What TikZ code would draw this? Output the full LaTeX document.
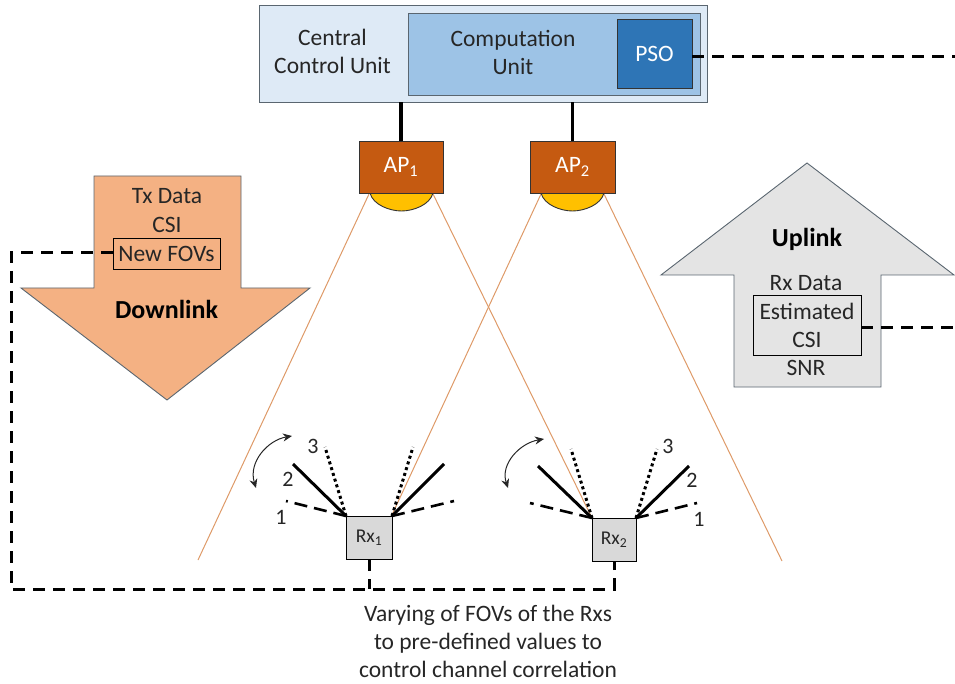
\documentclass[tikz,border=0pt]{standalone}
\usepackage{fontspec}
\setmainfont{Carlito}
\usetikzlibrary{arrows.meta}
\definecolor{ink}{HTML}{262626}
\definecolor{ccu}{HTML}{DEEAF6}
\definecolor{comp}{HTML}{9DC3E6}
\definecolor{psoc}{HTML}{2E75B6}
\definecolor{apc}{HTML}{C55A11}
\definecolor{lens}{HTML}{FFC000}
\definecolor{down}{HTML}{F4B183}
\definecolor{up}{HTML}{E4E4E4}
\definecolor{rxc}{HTML}{D9D9D9}
\definecolor{beam}{HTML}{DE9A68}
\definecolor{edge}{HTML}{5A6670}
\newcommand{\fsbig}{\fontsize{23.5}{28}\selectfont}
\newcommand{\fsbold}{\bfseries\fontsize{26}{30}\selectfont}
\tikzset{
  x=1pt,y=-1pt,
  box/.style={draw=#1,line width=0.9pt,inner sep=0pt,outer sep=0pt,align=center,text=ink,font=\fsbig},
  box/.default=black,
  lbl/.style={inner sep=0pt,align=center,text=ink,font=\fsbig},
  lines/.style={line width=3.6pt},
  dashline/.style={line width=3pt,dash pattern=on 12pt off 8pt},
  solidray/.style={line width=3pt},
  dashray/.style={line width=2.6pt,dash pattern=on 13pt off 7pt},
  dotray/.style={line width=3pt,dash pattern=on 3pt off 3pt},
  beamline/.style={draw=beam,line width=1pt},
  swing/.style={draw=ink,line width=1pt,{Stealth[length=9pt,width=8pt]}-{Stealth[length=9pt,width=8pt]}},
  num/.style={inner sep=0pt,text=ink,font=\fontsize{22}{24}\selectfont},
  rxbox/.style={box=black,fill=rxc,minimum height=43pt,font=\fontsize{19.5}{22}\selectfont}
}
\begin{document}
\begin{tikzpicture}
\useasboundingbox (0,0) rectangle (955,684);
% arrows
\path[draw=edge,line width=0.9pt,fill=down] (94,176)--(241,176)--(241,288)--(310,288)--(167,400)--(21,288)--(94,288)--cycle;
\path[draw=edge,line width=0.9pt,fill=up] (807,163)--(954,275)--(881,275)--(881,387)--(734,387)--(734,275)--(661,275)--cycle;
% beams
\coordinate (b1l) at (198,560); \coordinate (b1r) at (592,518);
\coordinate (b2l) at (391,517); \coordinate (b2r) at (782,561);
\coordinate (a1l) at (369,194); \coordinate (a1r) at (433,194);
\coordinate (a2l) at (541,194); \coordinate (a2r) at (604,194);
\draw[beamline] (a1l)--(b1l);
\draw[beamline] (a1r)--(b1r);
\draw[beamline] (a2l)--(b2l);
\draw[beamline] (a2r)--(b2r);
% central unit
\node[box=edge,fill=ccu,minimum width=448pt,minimum height=97pt] (ccu) at (483,53.5) {};
\node[box=edge,fill=comp,minimum width=292pt,minimum height=82pt] (cu) at (554,54) {};
\node[box=black!80,fill=psoc,minimum width=75pt,minimum height=69pt,text=white] (pso) at (654.5,53.5) {PSO};
\node[lbl] (ccut) at (332.5,51.5) {Central\\Control Unit};
\node[lbl] (cut) at (513,52.5) {Computation\\Unit};
% access points
\path[draw=black!80,line width=0.9pt,fill=lens] (370,193) .. controls (373,205) and (390,211) .. (401.5,211) .. controls (413,211) and (430,205) .. (433,193)--cycle;
\path[draw=black!80,line width=0.9pt,fill=lens] (541,193) .. controls (544,205) and (561,211) .. (572.5,211) .. controls (584,211) and (601,205) .. (604,193)--cycle;
\node[box=black!80,fill=apc,minimum width=84pt,minimum height=52pt,text=white] (ap1) at (401,167) {AP\textsubscript{1}};
\node[box=black!80,fill=apc,minimum width=85pt,minimum height=52pt,text=white] (ap2) at (572.5,167) {AP\textsubscript{2}};
\draw[lines] (ap1.north)--(ap1.north|-ccu.south);
\draw[lines] (ap2.north)--(ap2.north|-ccu.south);
% downlink text
\node[lbl] (tx) at (167,196) {Tx Data};
\node[lbl] (csi) at (167,225) {CSI};
\node[box=black,minimum width=107pt,minimum height=31pt] (fov) at (166.5,253.5) {New FOVs};
\node[lbl,font=\fsbold,text=black] (dl) at (166.5,309) {Downlink};
% uplink text
\node[lbl,font=\fsbold,text=black] (ul) at (807,239) {Uplink};
\node[lbl] (rxd) at (806,283) {Rx Data};
\node[box=black,minimum width=108pt,minimum height=60pt] (est) at (807,325) {Estimated\\CSI};
\node[lbl] (snr) at (806,368) {SNR};
% receivers
\node[rxbox,minimum width=46pt] (rx1) at (369,537.5) {Rx\textsubscript{1}};
\node[rxbox,minimum width=44pt] (rx2) at (614,539.5) {Rx\textsubscript{2}};
% FOV rays
\coordinate (r1a) at (286,501); \coordinate (r1b) at (293,464); \coordinate (r1c) at (325,447);
\coordinate (r1d) at (454,501); \coordinate (r1e) at (444,464); \coordinate (r1f) at (413,447);
\coordinate (r2a) at (530,503); \coordinate (r2b) at (538,466); \coordinate (r2c) at (571,449);
\coordinate (r2d) at (697,503); \coordinate (r2e) at (689,466); \coordinate (r2f) at (657,449);
\draw[dashray] (rx1.north west)--(r1a);
\draw[solidray] (rx1.north west)--(r1b);
\draw[dotray] (rx1.north west)--(r1c);
\draw[dashray] (rx1.north east)--(r1d);
\draw[solidray] (rx1.north east)--(r1e);
\draw[dotray] (rx1.north east)--(r1f);
\draw[dashray] (rx2.north west)--(r2a);
\draw[solidray] (rx2.north west)--(r2b);
\draw[dotray] (rx2.north west)--(r2c);
\draw[dashray] (rx2.north east)--(r2d);
\draw[solidray] (rx2.north east)--(r2e);
\draw[dotray] (rx2.north east)--(r2f);
\coordinate (s1a) at (292,436); \coordinate (s1b) at (256,488);
\coordinate (s2a) at (544,439); \coordinate (s2b) at (508,488);
\draw[swing] (s1a) .. controls (268,440) and (248,462) .. (s1b);
\draw[swing] (s2a) .. controls (520,443) and (500,464) .. (s2b);
\node[num] (n13) at (313,446) {3};
\node[num] (n12) at (288,479) {2};
\node[num] (n11) at (281,517) {1};
\node[num] (n23) at (668,446) {3};
\node[num] (n22) at (692,480) {2};
\node[num] (n21) at (699,519) {1};
% dashed control links
\coordinate (pe) at (955,57);
\coordinate (ee) at (955,328);
\coordinate (tl) at (11,253);
\coordinate (bl) at (11,589);
\coordinate (bm) at (rx1.south|-bl);
\coordinate (br) at (rx2.south|-bl);
\draw[dashline] (pso.east|-pe)--(pe);
\draw[dashline] (est.east|-ee)--(ee);
\draw[dashline] (fov.west|-tl)--(tl)--(bl)--(br)--(rx2.south);
\draw[dashline] (rx1.south)--(bm);
% caption
\node[lbl] (cap) at (488,641) {Varying of FOVs of the Rxs\\to pre-defined values to\\control channel correlation};
\end{tikzpicture}
\end{document}
